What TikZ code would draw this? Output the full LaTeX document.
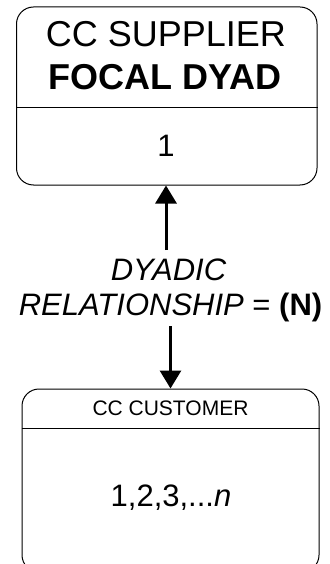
\documentclass[tikz,border=0pt]{standalone}
\usepackage{fontspec}
\setmainfont{Liberation Sans}
\usetikzlibrary{arrows.meta}

\tikzset{
  box/.style={draw=black, line width=1pt, rounded corners=17pt, inner sep=0pt},
  divider/.style={draw=black, line width=1pt},
  link/.style={line width=3pt, -{Triangle[width=21pt,length=18pt]}},
  big/.style={font=\fontsize{36}{43}\selectfont, anchor=base, inner sep=0pt},
  mid/.style={font=\fontsize{31}{35}\selectfont, anchor=base, inner sep=0pt},
  small/.style={font=\fontsize{21}{25}\selectfont, anchor=base, inner sep=0pt}
}

\begin{document}
\begin{tikzpicture}[x=1pt, y=1pt]
  \useasboundingbox (0,0) rectangle (329,-564);
  \clip (0,0) rectangle (329,-564);

  % supplier box
  \node[box, minimum width=300.5pt, minimum height=178pt] (sup) at (166.75,-96) {};
  \draw[divider] (sup.west |- 0,-108) -- (sup.east |- 0,-108);
  \node[big] (supA) at (166,-46.7) {CC SUPPLIER};
  \node[big] (supB) at (165,-90) {\bfseries FOCAL DYAD};
  \node[mid] (supN) at (166,-157) {1};

  % customer box (runs past the lower edge)
  \node[box, minimum width=297pt, minimum height=183pt] (cus) at (170.5,-480.5) {};
  \draw[divider] (cus.west |- 0,-428) -- (cus.east |- 0,-428);
  \node[small] (cusA) at (170.5,-415) {CC CUSTOMER};
  \node[mid] (cusN) at (171,-506.7) {1,2,3,...\textit{n}};

  % relationship label
  \node[mid] (relA) at (168.5,-280) {\itshape DYADIC};
  \node[mid] (relB) at (170.5,-315) {\textit{RELATIONSHIP} = \textbf{(N)}};

  % arrows
  \coordinate (upStart) at (166,-250);
  \coordinate (downStart) at (170.5,-326);
  \draw[link] (upStart) -- (upStart |- sup.south);
  \draw[link] (downStart) -- (downStart |- cus.north);
\end{tikzpicture}
\end{document}
